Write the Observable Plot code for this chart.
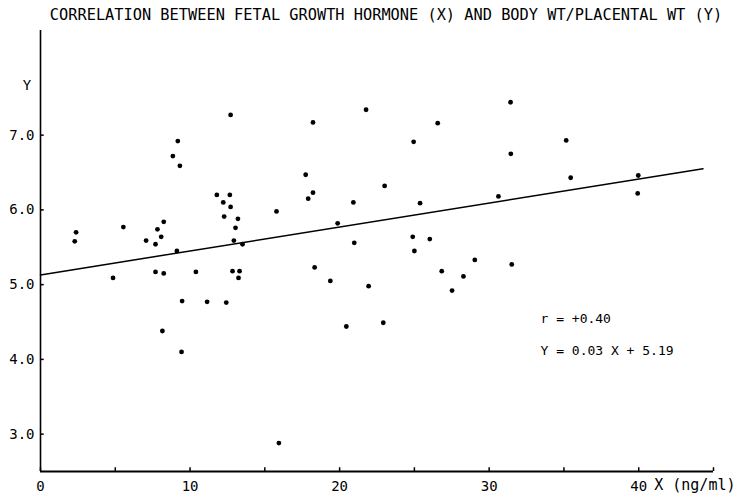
<!DOCTYPE html>
<html><head><meta charset="utf-8">
<script src="https://cdn.jsdelivr.net/npm/d3@7"></script>
<script src="https://cdn.jsdelivr.net/npm/@observablehq/plot@0.6"></script>
<style>body{margin:0;background:#fff}</style>
</head><body><div id="chart"></div>
<script>
const title = "CORRELATION BETWEEN FETAL GROWTH HORMONE (X) AND BODY WT/PLACENTAL WT (Y)";
const hormoneX = [2.38,2.29,4.85,5.54,7.06,7.69,7.82,8.07,8.24,7.69,8.24,8.15,8.85,9.18,9.32,9.12,9.47,9.43,10.39,11.14,
  11.79,12.66,12.22,12.71,12.28,13.2,12.71,13.04,12.93,13.51,12.84,13.31,13.24,12.42,15.78,15.94,17.73,17.9,18.22,18.22,
  18.33,19.38,19.87,20.45,20.92,20.98,21.77,21.94,22.92,23.01,24.95,24.89,25.0,25.38,26.03,26.56,26.83,27.52,28.28,29.04,
  30.62,31.43,31.45,31.51,35.15,35.45,39.97,39.93];
const ratioY = [5.70,5.58,5.09,5.77,5.59,5.54,5.74,5.64,5.84,5.17,5.15,4.38,6.72,6.92,6.59,5.45,4.78,4.10,5.17,4.77,
  6.20,6.20,6.10,6.04,5.91,5.88,7.27,5.76,5.59,5.54,5.18,5.18,5.09,4.76,5.98,2.88,6.47,6.15,6.23,7.17,
  5.23,5.05,5.82,4.44,6.10,5.56,7.34,4.98,4.49,6.32,6.91,5.64,5.45,6.09,5.61,7.16,5.18,4.92,5.11,5.33,
  6.18,7.44,6.75,5.27,6.93,6.43,6.46,6.22];
const fitX = [0, 44.3];
const fitY = [5.13, 6.55];
const yTicks = [3, 4, 5, 6, 7];
const xLabelTicks = [0, 10, 20, 30, 40];
const xMinorTicks = [0, 5, 10, 15, 20, 25, 30, 35, 40, 45];
const xAxisName = "X (ng/ml)";
const yAxisName = "Y";
const statR = "r = +0.40";
const statEq = "Y = 0.03 X + 5.19";

const points = hormoneX.map((x, i) => ({x, y: ratioY[i]}));
const fit = fitX.map((x, i) => ({x, y: fitY[i]}));

const chart = Plot.plot({
  width: 740, height: 503,
  marginTop: 30, marginBottom: 32, marginLeft: 40, marginRight: 27,
  style: {fontFamily: "DejaVu Sans Mono", fontSize: "14px", color: "#000", background: "#fff"},
  x: {domain: [0, 45]},
  y: {domain: [2.5, 8.4]},
  marks: [
    Plot.axisX(xLabelTicks, {tickSize: 0, tickPadding: 10, label: null, fontSize: 14}),
    Plot.axisY(yTicks, {tickSize: 0, tickPadding: 6, tickFormat: d => d.toFixed(1), label: null, fontSize: 14}),
    Plot.ruleX([0], {y1: 2.5, y2: 8.4, strokeWidth: 1.6}),
    Plot.ruleY([2.5], {x1: 0, x2: 45, strokeWidth: 2}),
    Plot.ruleY(yTicks, {x1: 0, x2: 0.25, strokeWidth: 1.5}),
    Plot.ruleX(xMinorTicks, {y1: 2.5, y2: 2.55, strokeWidth: 1.5}),
    Plot.line(fit, {x: "x", y: "y", strokeWidth: 1.5}),
    Plot.dot(points, {x: "x", y: "y", r: 2.4, fill: "#000"}),
    Plot.text([title], {text: d => d, frameAnchor: "top", dx: 9, dy: -15, lineAnchor: "middle", fontSize: 15.3}),
    Plot.text([yAxisName], {text: d => d, frameAnchor: "top-left", dx: -13.5, dy: 55, lineAnchor: "middle", textAnchor: "middle", fontSize: 14}),
    Plot.text([xAxisName], {text: d => d, frameAnchor: "bottom-right", dx: 22, dy: 14, lineAnchor: "middle", textAnchor: "end", fontSize: 15}),
    Plot.text([statR], {text: d => d, frameAnchor: "top-left", dx: 500, dy: 288, lineAnchor: "middle", textAnchor: "start", fontSize: 13}),
    Plot.text([statEq], {text: d => d, frameAnchor: "top-left", dx: 500, dy: 320, lineAnchor: "middle", textAnchor: "start", fontSize: 13})
  ]
});
document.getElementById("chart").append(chart);
</script>
</body></html>
